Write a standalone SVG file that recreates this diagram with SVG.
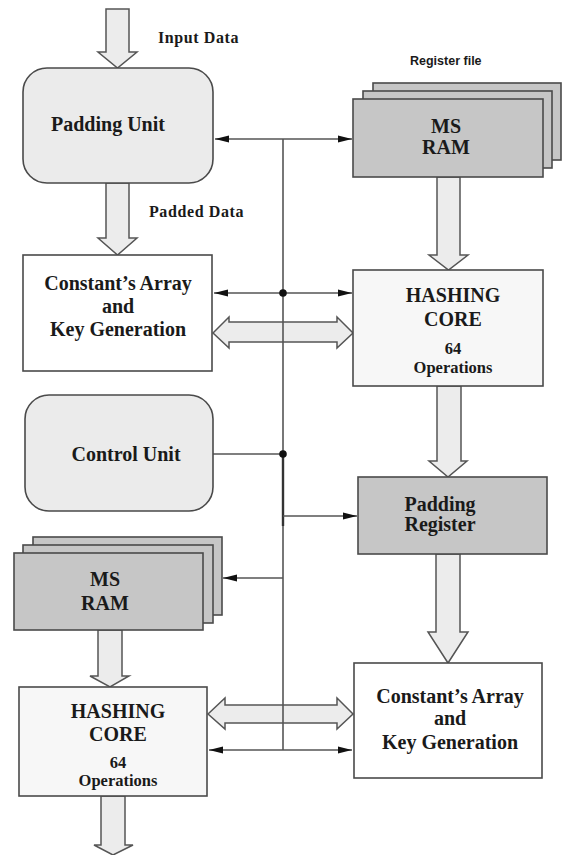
<svg xmlns="http://www.w3.org/2000/svg" width="563" height="855" viewBox="0 0 563 855">
<style>
.box{stroke:#4a4a4a;stroke-width:1.6}
.t{font-family:"Liberation Serif","Times New Roman",serif;font-weight:bold;font-size:20px;fill:#1a1a1a;text-anchor:middle}
.s{font-size:16.5px}
.lbl{font-family:"Liberation Serif","Times New Roman",serif;font-weight:bold;font-size:16px;fill:#1a1a1a;letter-spacing:0.6px}
.sans{font-family:"Liberation Sans",Arial,sans-serif;font-weight:bold;font-size:12.5px;fill:#1a1a1a}
.blk{fill:#ececec;stroke:#555;stroke-width:1.5}
.ln{stroke:#555;stroke-width:1.6;fill:none}
</style>
<defs>
<marker id="ah" markerUnits="userSpaceOnUse" markerWidth="15" markerHeight="8" refX="14" refY="4" orient="auto-start-reverse">
<path d="M0,0.5 L14,4 L0,7.5 z" fill="#111"/>
</marker>
</defs>
<rect width="563" height="855" fill="#fff"/>

<g id="labels">
<text class="lbl" x="158" y="43">Input Data</text>
<text class="lbl" x="149" y="217">Padded Data</text>
<text class="sans" x="410" y="65">Register file</text>
</g>

<g id="block-arrows">
<polygon class="blk" points="106,9 129,9 129,52 137,52 117.5,68 98,52 106,52"/>
<polygon class="blk" points="106,183 129,183 129,238 137,238 117.5,255 98,238 106,238"/>
<polygon class="blk" points="437,177 460,177 460,255 468,255 448.5,270 429,255 437,255"/>
<polygon class="blk" points="437,386 461,386 461,461 467,461 448,477 429,461 437,461"/>
<polygon class="blk" points="436,554 460,554 460,632 468,632 448,663 428,632 436,632"/>
<polygon class="blk" points="98,630 122,630 122,676 129,676 110,687 90,676 98,676"/>
<polygon class="blk" points="101,796 125,796 125,845 133,845 113,855 94,845 101,845"/>
<polygon class="blk" points="213,333 229,317 229,322 337,322 337,317 353,333 337,348 337,342 229,342 229,348"/>
<polygon class="blk" points="208,714 225,698 225,705 337,705 337,698 353,714 337,729 337,723 225,723 225,729"/>
</g>

<g id="connectors">
<line class="ln" x1="283" y1="139" x2="283" y2="750"/>
<line x1="283" y1="454" x2="283" y2="526" stroke="#333" stroke-width="2.4"/>
<line class="ln" x1="215" y1="139" x2="352" y2="139" marker-start="url(#ah)" marker-end="url(#ah)"/>
<line class="ln" x1="214" y1="293" x2="352" y2="293" marker-start="url(#ah)" marker-end="url(#ah)"/>
<circle cx="283" cy="293" r="3.8" fill="#111"/>
<line class="ln" x1="213" y1="454" x2="283" y2="454"/>
<circle cx="283" cy="454" r="3.8" fill="#111"/>
<line class="ln" x1="283" y1="516" x2="357" y2="516" marker-end="url(#ah)"/>
<line class="ln" x1="283" y1="578" x2="223" y2="578" marker-end="url(#ah)"/>
<line class="ln" x1="209" y1="750" x2="352" y2="750" marker-start="url(#ah)" marker-end="url(#ah)"/>
</g>

<g id="padding-unit">
<rect class="box" x="23" y="68" width="190" height="115" rx="24" fill="#ebebeb"/>
<text class="t" x="108" y="131">Padding Unit</text>
</g>

<g id="ms-ram-top">
<rect class="box" x="373" y="83" width="188" height="77" fill="#c6c6c6"/>
<rect class="box" x="363" y="91" width="189" height="77" fill="#c6c6c6"/>
<rect class="box" x="353" y="99" width="190" height="78" fill="#c6c6c6"/>
<text class="t" x="446" y="133">MS</text>
<text class="t" x="446" y="154">RAM</text>
</g>

<g id="constants-top">
<rect class="box" x="23" y="255" width="189" height="116" fill="#fff"/>
<text class="t" x="118" y="290">Constant’s Array</text>
<text class="t" x="118" y="313">and</text>
<text class="t" x="118" y="336">Key Generation</text>
</g>

<g id="hashing-top">
<rect class="box" x="353" y="270" width="190" height="116" fill="#f7f7f7"/>
<text class="t" x="453" y="302">HASHING</text>
<text class="t" x="453" y="326">CORE</text>
<text class="t s" x="453" y="354">64</text>
<text class="t s" x="453" y="373">Operations</text>
</g>

<g id="control-unit">
<rect class="box" x="25" y="395" width="188" height="116" rx="24" fill="#ebebeb"/>
<text class="t" x="126" y="461">Control Unit</text>
</g>

<g id="padding-register">
<rect class="box" x="358" y="477" width="189" height="77" fill="#c6c6c6"/>
<text class="t" x="440" y="511">Padding</text>
<text class="t" x="440" y="531">Register</text>
</g>

<g id="ms-ram-bottom">
<rect class="box" x="33" y="537" width="189" height="78" fill="#c6c6c6"/>
<rect class="box" x="23" y="545" width="190" height="78" fill="#c6c6c6"/>
<rect class="box" x="14" y="553" width="189" height="77" fill="#c6c6c6"/>
<text class="t" x="105" y="586">MS</text>
<text class="t" x="105" y="610">RAM</text>
</g>

<g id="hashing-bottom">
<rect class="box" x="19" y="687" width="188" height="109" fill="#f7f7f7"/>
<text class="t" x="118" y="718">HASHING</text>
<text class="t" x="118" y="741">CORE</text>
<text class="t s" x="118" y="768">64</text>
<text class="t s" x="118" y="786">Operations</text>
</g>

<g id="constants-bottom">
<rect class="box" x="354" y="663" width="188" height="115" fill="#fff"/>
<text class="t" x="450" y="703">Constant’s Array</text>
<text class="t" x="450" y="725">and</text>
<text class="t" x="450" y="749">Key Generation</text>
</g>
</svg>
